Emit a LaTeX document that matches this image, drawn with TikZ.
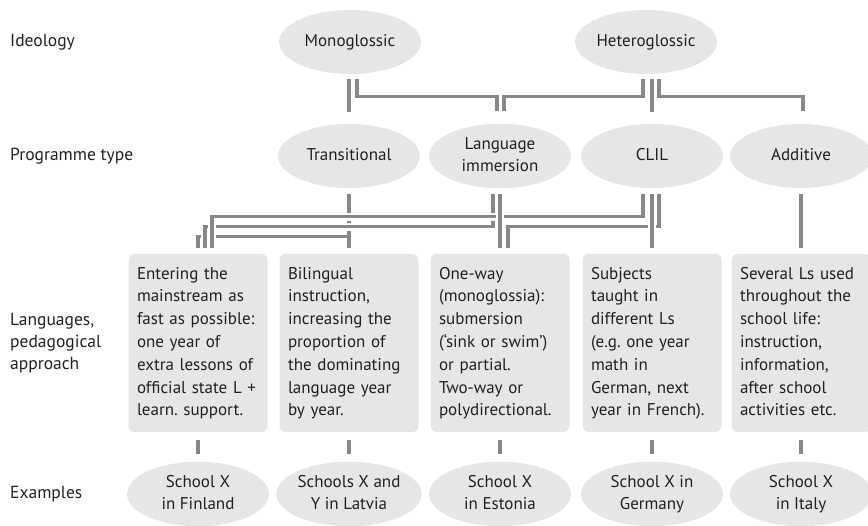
\documentclass[tikz,border=0pt]{standalone}
\usepackage{fontspec}
\setmainfont{PT Sans}
\usetikzlibrary{shapes.geometric}
\definecolor{shapefill}{HTML}{E6E6E6}
\definecolor{linegray}{HTML}{878787}
\definecolor{txt}{HTML}{231F20}
\frenchspacing
\begin{document}
\begin{tikzpicture}[x=1pt,y=-1pt,
  font=\fontsize{17}{22.8}\selectfont, text=txt,
  oval/.style={ellipse, fill=shapefill, minimum width=142pt, minimum height=64pt, inner sep=0pt, align=center},
  card/.style={rectangle, rounded corners=6pt, fill=shapefill, text width=122pt, inner xsep=8.5pt, inner ysep=0pt, minimum height=178pt, align=left},
  rowlabel/.style={anchor=west, align=left, inner sep=0pt, font=\fontsize{17.5}{22}\selectfont},
  conn/.style={draw=linegray, line width=3.3pt, preaction={draw=white, line width=8.5pt}}]
\useasboundingbox (0,0) rectangle (868,526);

% row labels
\node[rowlabel] (lid) at (10,42) {\strut Ideology};
\node[rowlabel] (lprog) at (10,156) {\strut Programme type};
\node[rowlabel] (llang) at (10,343) {\strut Languages,\\pedagogical\\approach\strut};
\node[rowlabel] (lex) at (10,494) {\strut Examples};

% ideology
\node[oval] (mono) at (350,42) {\strut Monoglossic};
\node[oval] (hetero) at (646,42) {\strut Heteroglossic};

% programme types
\node[oval] (trans) at (349,156) {\strut Transitional};
\node[oval] (imm) at (500,156) {\strut Language\\immersion\strut};
\node[oval] (clil) at (652,156) {\strut CLIL};
\node[oval] (add) at (801,156) {\strut Additive};

% approaches
\node[card] (b1) at (198,343) {\strut Entering the\\mainstream as\\fast as possible:\\one year of\\extra lessons of\\official state L +\\learn. support.\strut};
\node[card] (b2) at (349,343) {\strut Bilingual\\instruction,\\increasing the\\proportion of\\the dominating\\language year\\by year.\strut};
\node[card] (b3) at (500,343) {\strut One-way\\(monoglossia):\\submersion\\(‘sink or swim’)\\or partial.\\Two-way or\\polydirectional.\strut};
\node[card] (b4) at (652,343) {\strut Subjects\\taught in\\different Ls\\(e.g. one year\\math in\\German, next\\year in French).\strut};
\node[card] (b5) at (801,343) {\strut Several Ls used\\throughout the\\school life:\\instruction,\\information,\\after school\\activities etc.\strut};

% examples
\node[oval] (e1) at (198,494) {\strut School X\\in Finland\strut};
\node[oval] (e2) at (349,494) {\strut Schools X and\\Y in Latvia\strut};
\node[oval] (e3) at (500,494) {\strut School X\\in Estonia\strut};
\node[oval] (e4) at (652,494) {\strut School X in\\Germany\strut};
\node[oval] (e5) at (801,494) {\strut School X\\in Italy\strut};

% ideology -> programme
\draw[conn] ([shift={(-1,5)}]mono.south) -- ([shift={(0,-12)}]trans.north);
\draw[conn] ([shift={(7,5)}]mono.south) |- ([shift={(-3,-27)}]imm.north) -- ([shift={(-3,-13)}]imm.north);
\draw[conn] ([shift={(-3,5)}]hetero.south) |- ([shift={(4,-27)}]imm.north) -- ([shift={(4,-13)}]imm.north);
\draw[conn] ([shift={(6,5)}]hetero.south) -- ([shift={(0,-12)}]clil.north);
\draw[conn] ([shift={(13,5)}]hetero.south) |- ([shift={(2,-27)}]add.north) -- ([shift={(2,-13)}]add.north);

% programme -> approach
\draw[conn] ([shift={(0,6)}]trans.south) -- ([shift={(0,-6)}]b2.north)
  ([shift={(0,-17)}]b2.north) -| ([shift={(0,-6)}]b1.north);
\draw[conn] ([shift={(-7,6)}]imm.south) |- ([shift={(7,-27)}]b1.north) -- ([shift={(7,-6)}]b1.north);
\draw[conn] ([shift={(-9,6)}]clil.south) |- ([shift={(14,-37)}]b1.north) -- ([shift={(14,-6)}]b1.north);
\draw[conn] ([shift={(7,6)}]clil.south) |- ([shift={(8,-27)}]b3.north) -- ([shift={(8,-6)}]b3.north);
\draw[conn] ([shift={(0,6)}]imm.south) -- ([shift={(0,-6)}]b3.north);
\draw[conn] ([shift={(0,6)}]clil.south) -- ([shift={(0,-6)}]b4.north);
\draw[conn] ([shift={(0,6)}]add.south) -- ([shift={(0,-6)}]b5.north);

% approach -> examples
\foreach \i in {1,...,5}
  \draw[conn] ([shift={(0,8)}]b\i.south) -- ([shift={(0,-8)}]e\i.north);
\end{tikzpicture}
\end{document}
